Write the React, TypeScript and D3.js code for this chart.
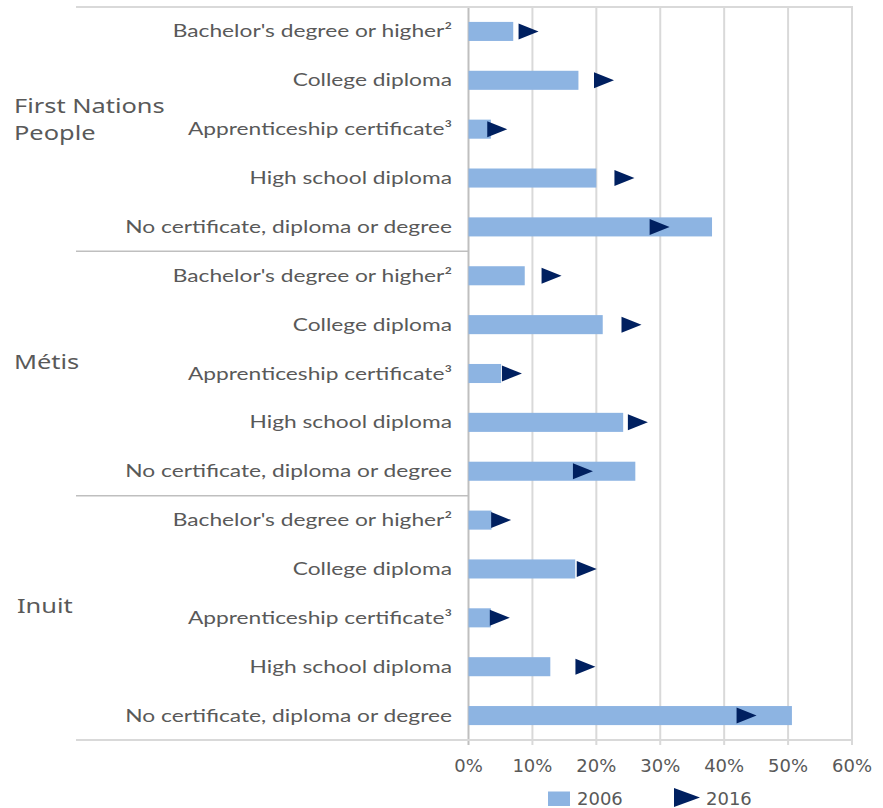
import React from "react";
import * as d3 from "d3";

const groups = ["First Nations People", "Métis", "Inuit"];
const levels = [
  "Bachelor's degree or higher²",
  "College diploma",
  "Apprenticeship certificate³",
  "High school diploma",
  "No certificate, diploma or degree",
];
const values2006 = [
  [7.0, 17.2, 3.5, 20.0, 38.1],
  [8.8, 21.0, 5.1, 24.2, 26.1],
  [3.6, 16.7, 3.5, 12.8, 50.6],
];
const values2016 = [
  [9.4, 21.2, 4.5, 24.4, 29.9],
  [13.0, 25.5, 6.8, 26.5, 17.9],
  [5.1, 18.5, 4.9, 18.3, 43.5],
];
const xTicks = [0, 10, 20, 30, 40, 50, 60];
const seriesNames = ["2006", "2016"];

const W = 883;
const H = 808;
const BAR = "#8DB4E2";
const TRI = "#002060";
const GRID = "#D9D9D9";
const TEXT = "#595959";

export default function App() {
  const rows = groups.flatMap((g, gi) =>
    levels.map((l, li) => ({ key: `${gi}-${li}`, group: g, gi, level: l, v06: values2006[gi][li], v16: values2016[gi][li] }))
  );
  const x = d3.scaleLinear().domain([0, 60]).range([468.5, 852]);
  const y = d3.scaleBand<string>().domain(rows.map((r) => r.key)).range([7, 740]).paddingInner(0.61).paddingOuter(0.305);
  const step = y.step();
  const tri = (cx: number, cy: number) => `M${cx - 10},${cy - 8}L${cx + 10},${cy}L${cx - 10},${cy + 8}Z`;
  const catFont = "Lato, 'Noto Sans', sans-serif";
  const axFont = "'DejaVu Sans', sans-serif";
  const grpFont = "'Noto Sans', sans-serif";

  return (
    <svg width={W} height={H} style={{ position: "absolute", left: 0, top: 0, background: "#fff" }}>
      {/* vertical gridlines */}
      {xTicks.map((t) => (
        <line key={t} x1={x(t)} x2={x(t)} y1={7} y2={745} stroke={t === 0 ? "#BFBFBF" : GRID} strokeWidth={2} />
      ))}
      {/* top & bottom borders */}
      <line x1={76} x2={x(60) + 1} y1={7} y2={7} stroke={GRID} strokeWidth={2} />
      <line x1={76} x2={x(60) + 1} y1={740} y2={740} stroke={GRID} strokeWidth={2} />
      {/* group separators */}
      {[1, 2].map((g) => {
        const yy = 7 + g * 5 * step;
        return <line key={g} x1={76} x2={x(0)} y1={yy} y2={yy} stroke="#BFBFBF" strokeWidth={1.5} />;
      })}
      {/* bars */}
      {rows.map((r) => (
        <rect key={r.key} x={x(0)} y={y(r.key)!} width={x(r.v06) - x(0)} height={y.bandwidth()} fill={BAR} />
      ))}
      {/* triangles */}
      {rows.map((r) => (
        <path key={r.key} d={tri(x(r.v16), y(r.key)! + y.bandwidth() / 2)} fill={TRI} />
      ))}
      {/* category labels */}
      {rows.map((r) => (
        <text
          key={r.key}
          transform={`translate(452,${y(r.key)! + y.bandwidth() / 2 + 6}) scale(1.3,1)`}
          textAnchor="end"
          fontFamily={catFont}
          fontSize={17.5}
          fill={TEXT}
        >
          {r.level}
        </text>
      ))}
      {/* group labels */}
      {groups.map((g, gi) => {
        const cy = 7 + (gi * 5 + 2.5) * step;
        if (gi === 0) {
          return (
            <g key={g}>
              <text transform={`translate(14,${cy - 16}) scale(1.27,1)`} fontFamily={grpFont} fontSize={20} fill={TEXT}>First Nations</text>
              <text transform={`translate(14,${cy + 11}) scale(1.27,1)`} fontFamily={grpFont} fontSize={20} fill={TEXT}>People</text>
            </g>
          );
        }
        return (
          <text key={g} transform={`translate(${gi === 2 ? 17 : 14},${cy - 5}) scale(1.27,1)`} fontFamily={grpFont} fontSize={20} fill={TEXT}>
            {g}
          </text>
        );
      })}
      {/* x tick labels */}
      {xTicks.map((t) => (
        <text key={t} x={x(t)} y={772} textAnchor="middle" fontFamily={axFont} fontSize={18} fill={TEXT}>
          {d3.format(".0%")(t / 100)}
        </text>
      ))}
      {/* legend */}
      <rect x={548} y={791.5} width={22} height={14.5} fill={BAR} />
      <text x={577} y={804.5} fontFamily={axFont} fontSize={18} fill={TEXT}>{seriesNames[0]}</text>
      <path d={`M674,788L700,797.5L674,807Z`} fill={TRI} />
      <text x={706} y={804.5} fontFamily={axFont} fontSize={18} fill={TEXT}>{seriesNames[1]}</text>
    </svg>
  );
}
